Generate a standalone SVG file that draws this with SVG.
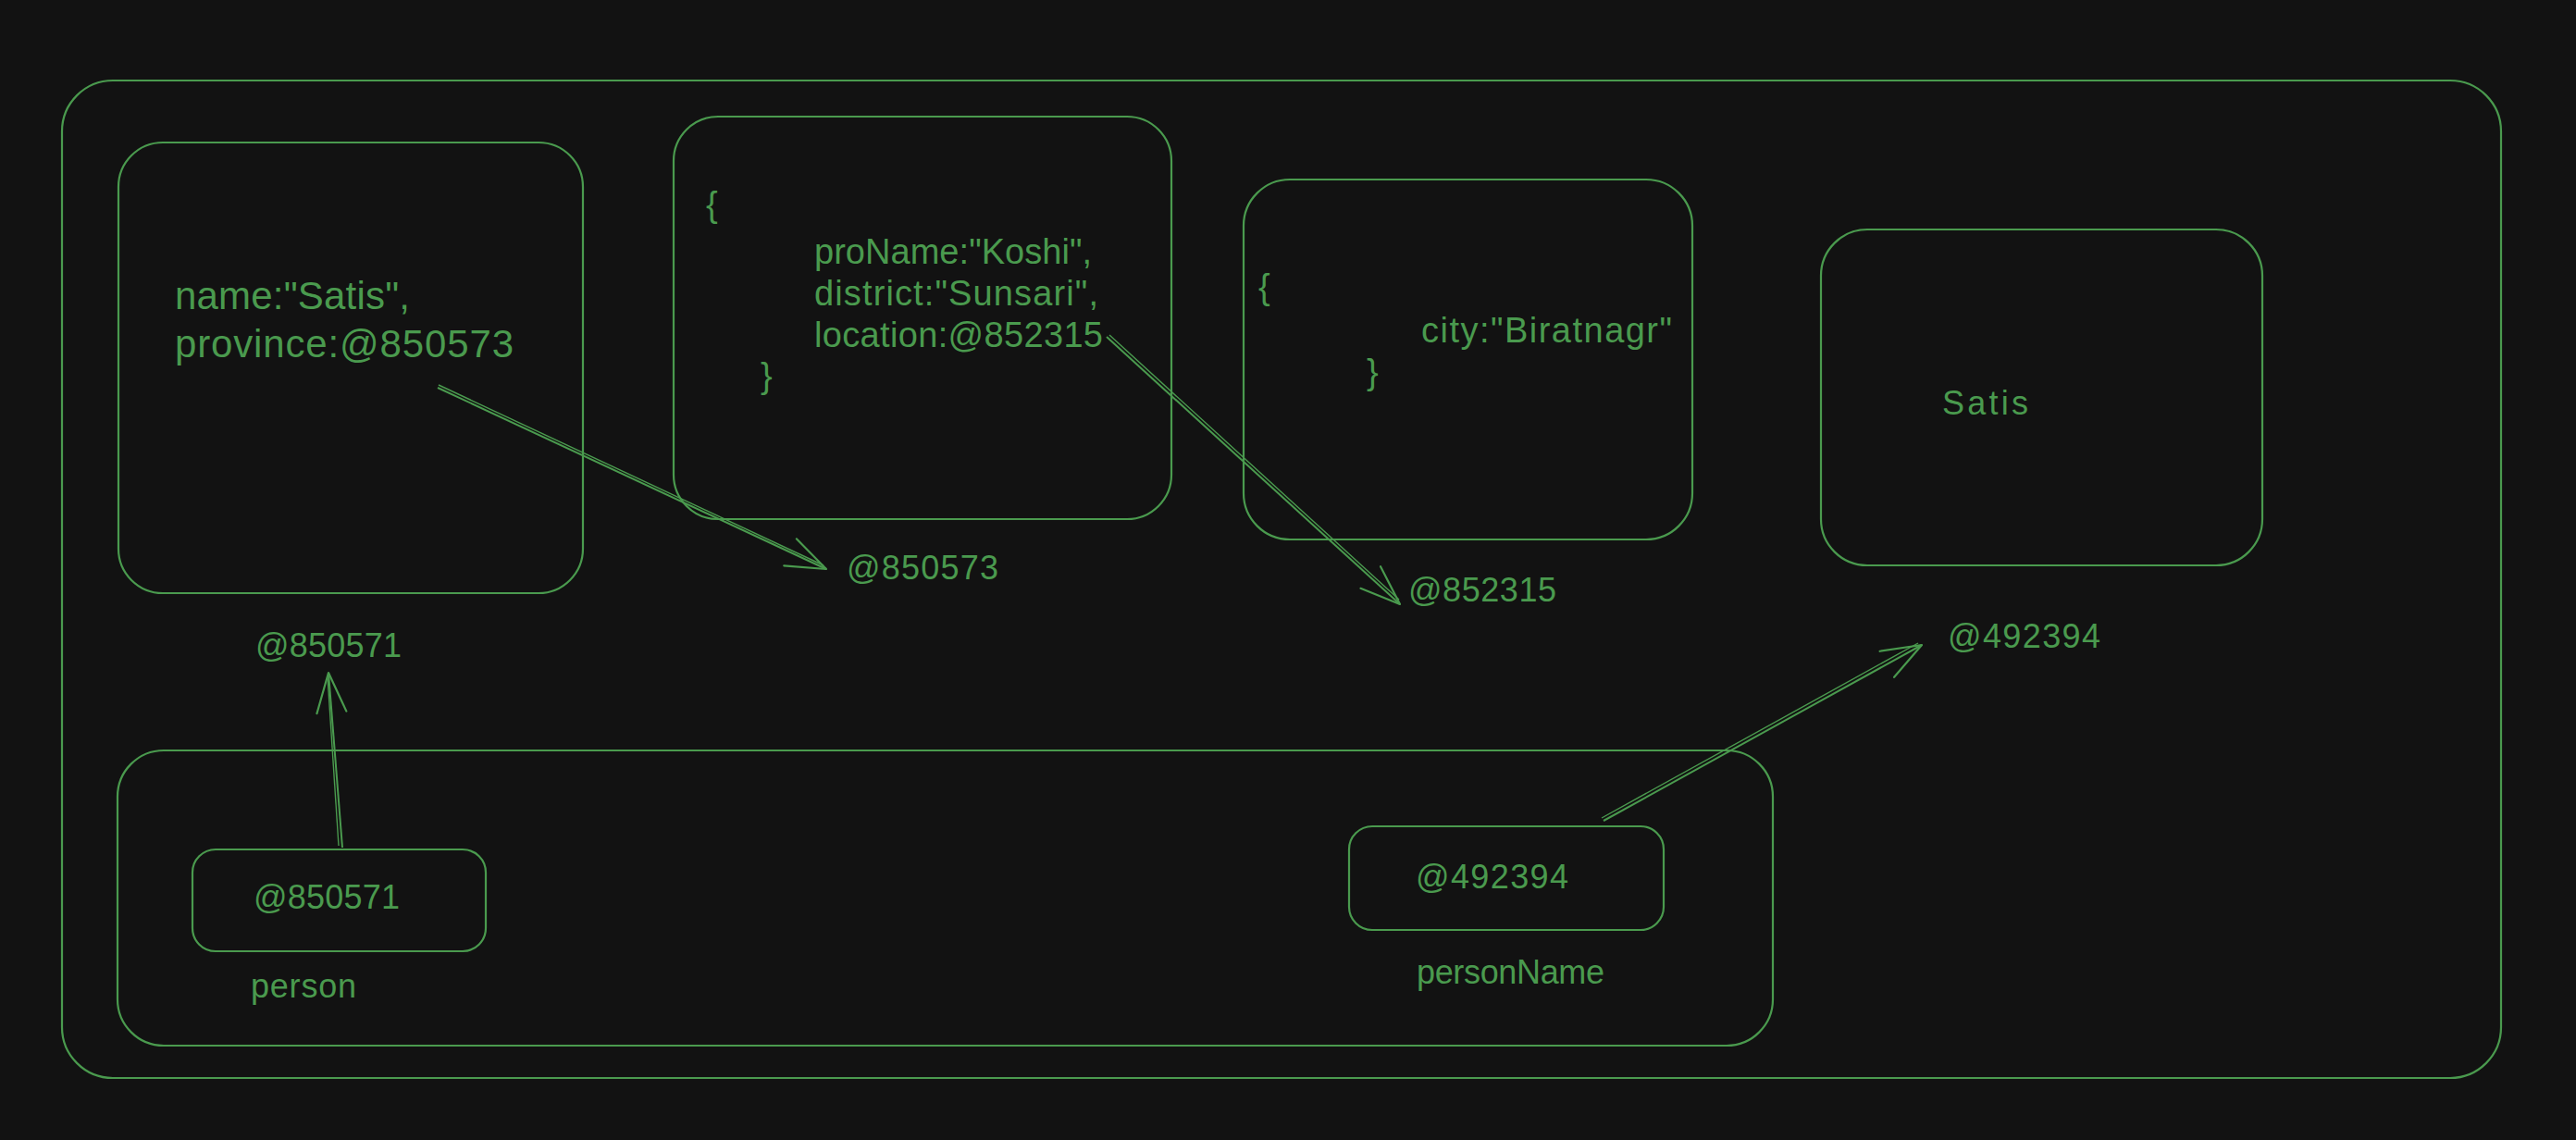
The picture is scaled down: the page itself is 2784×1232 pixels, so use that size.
<svg xmlns="http://www.w3.org/2000/svg" width="2784" height="1232" viewBox="0 0 2784 1232">
<style>
.box{fill:none;stroke:#4a9a4e;stroke-width:2.2}
.t{font-family:"Liberation Sans","DejaVu Sans",sans-serif;fill:#4a9a4e;font-size:36px}
.mid{font-size:38px}
.big{font-size:42px}
.conn{stroke:#4a9a4e;stroke-width:2;fill:none;marker-end:url(#arrow)}
.sk{stroke:#4a9a4e;stroke-width:1.4;fill:none}
</style>
<defs>
<marker id="arrow" markerUnits="userSpaceOnUse" viewBox="-50 -20 60 40" markerWidth="60" markerHeight="40" refX="0" refY="0" orient="auto" overflow="visible">
<path d="M-43,-16 L0,0 L-43,16" fill="none" stroke="#4a9a4e" stroke-width="2.2" stroke-linecap="round" stroke-linejoin="round"/>
</marker>
</defs>
<rect x="0" y="0" width="2784" height="1232" fill="#121212"/>

<g id="outer-frame">
<rect class="box" x="67" y="87" width="2636" height="1078" rx="55"/>
</g>

<g id="person-object">
<rect class="box" x="128" y="154" width="502" height="487" rx="48"/>
<text class="t big" x="189" y="334" textLength="254">name:"Satis",</text>
<text class="t big" x="189" y="386" textLength="366">province:@850573</text>
</g>
<g id="label-850571">
<text class="t" x="276" y="710" textLength="158">@850571</text>
</g>

<g id="province-object">
<rect class="box" x="728" y="126" width="538" height="435" rx="48"/>
<text class="t mid" x="763" y="234">{</text>
<text class="t mid" x="880" y="285" textLength="300">proName:"Koshi",</text>
<text class="t mid" x="880" y="330" textLength="307">district:"Sunsari",</text>
<text class="t mid" x="880" y="375" textLength="312">location:@852315</text>
<text class="t mid" x="822" y="419">}</text>
</g>
<g id="label-850573">
<text class="t" x="915" y="626" textLength="164">@850573</text>
</g>

<g id="location-object">
<rect class="box" x="1344" y="194" width="485" height="389" rx="50"/>
<text class="t mid" x="1360" y="323">{</text>
<text class="t mid" x="1536" y="370" textLength="271">city:"Biratnagr"</text>
<text class="t mid" x="1477" y="415">}</text>
</g>
<g id="label-852315">
<text class="t" x="1522" y="650" textLength="160">@852315</text>
</g>

<g id="string-object">
<rect class="box" x="1968" y="248" width="477" height="363" rx="50"/>
<text class="t" x="2099" y="448" textLength="93">Satis</text>
</g>
<g id="label-492394">
<text class="t" x="2105" y="700" textLength="165">@492394</text>
</g>

<g id="stack">
<rect class="box" x="127" y="811" width="1789" height="319" rx="50"/>
</g>
<g id="person-var">
<rect class="box" x="208" y="918" width="317" height="110" rx="25"/>
<text class="t" x="274" y="982" textLength="158">@850571</text>
<text class="t" x="271" y="1078" textLength="114">person</text>
</g>
<g id="personName-var">
<rect class="box" x="1458" y="893" width="340" height="112" rx="25"/>
<text class="t" x="1530" y="960" textLength="165">@492394</text>
<text class="t" x="1531" y="1063" textLength="203">personName</text>
</g>

<g id="connectors">
<line class="conn" x1="473" y1="419" x2="893" y2="615"/>
<line class="sk" x1="474" y1="416" x2="890" y2="611"/>
<line class="conn" x1="1196" y1="364" x2="1513" y2="653"/>
<line class="sk" x1="1199" y1="362" x2="1512" y2="648"/>
<line class="conn" x1="1733" y1="887" x2="2077" y2="697"/>
<line class="sk" x1="1731" y1="884" x2="2073" y2="695"/>
<line class="conn" x1="370" y1="916" x2="355" y2="727"/>
<line class="sk" x1="366" y1="914" x2="354" y2="731"/>
</g>
</svg>
